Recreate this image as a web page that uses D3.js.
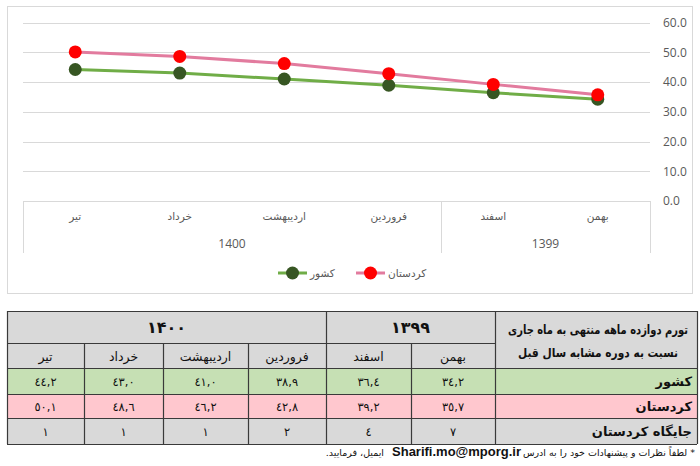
<!DOCTYPE html>
<html>
<head>
<meta charset="utf-8">
<script src="https://cdn.jsdelivr.net/npm/d3@7/dist/d3.min.js"></script>
<style>
  html, body { margin: 0; padding: 0; background: #fff; }
  svg { display: block; }
</style>
</head>
<body>
<script>
// ---------------- DATA (chronological order) ----------------
const months    = ["بهمن", "اسفند", "فروردین", "اردیبهشت", "خرداد", "تیر"];
const years     = ["1399", "1399", "1400", "1400", "1400", "1400"];
const country   = [34.2, 36.4, 38.9, 41.0, 43.0, 44.2];   // کشور
const kurdistan = [35.7, 39.2, 42.8, 46.2, 48.6, 50.1];   // کردستان
const rank      = [7, 4, 2, 1, 1, 1];                     // جایگاه کردستان
const seriesNames = ["کشور", "کردستان"];
const yTicks    = [0, 10, 20, 30, 40, 50, 60];
const tableTitle = ["تورم دوازده ماهه منتهی به ماه جاری", "نسبت به دوره مشابه سال قبل"];
const rowLabels  = ["کشور", "کردستان", "جایگاه کردستان"];
const footerRight = "* لطفاً نظرات و پیشنهادات خود را به ادرس";
const footerEmail = "Sharifi.mo@mporg.ir";
const footerLeft  = "ایمیل، فرمایید.";

// ---------------- SETUP ----------------
const W = 700, H = 466;
const svg = d3.select("body").append("svg").attr("width", W).attr("height", H);
svg.append("rect").attr("width", W).attr("height", H).attr("fill", "#fff");

const FA = "'DejaVu Sans', 'Noto Sans', sans-serif";
const LAT = "'Open Sans', 'Liberation Sans', sans-serif";

// chart frame
svg.append("rect").attr("x", 7.5).attr("y", 6.5).attr("width", 685).attr("height", 287)
  .attr("fill", "#fff").attr("stroke", "#d9d9d9").attr("stroke-width", 1);

// display order is right-to-left in time
const idx = d3.range(months.length).reverse();
const x = d3.scaleBand().domain(idx).range([23, 650]);
const y = d3.scaleLinear().domain([0, 60]).range([201, 22.5]);
const xc = i => x(i) + x.bandwidth() / 2;

// gridlines
svg.append("g").selectAll("line").data(yTicks).join("line")
  .attr("x1", 23).attr("x2", 650)
  .attr("y1", d => Math.round(y(d)) + 0.5).attr("y2", d => Math.round(y(d)) + 0.5)
  .attr("stroke", "#d9d9d9").attr("stroke-width", 1);

// y axis (right)
const yAxis = svg.append("g").attr("transform", "translate(650,0)")
  .call(d3.axisRight(y).tickValues(yTicks).tickSize(0).tickPadding(13).tickFormat(d3.format(".1f")));
yAxis.select(".domain").remove();
yAxis.selectAll("text").attr("font-family", LAT).attr("font-size", 12).attr("fill", "#595959");

// category axis
const xAxis = svg.append("g").attr("transform", "translate(0,201)")
  .call(d3.axisBottom(x).tickSize(0).tickPadding(12).tickFormat(i => months[i]));
xAxis.select(".domain").remove();
xAxis.selectAll("text").attr("font-family", FA).attr("font-size", 10.5).attr("fill", "#595959");

// year groups
const groups = d3.groups(idx, i => years[i]);
const bounds = [];
groups.forEach(([yr, arr]) => {
  const x0 = d3.min(arr, i => x(i)), x1 = d3.max(arr, i => x(i) + x.bandwidth());
  bounds.push(x0, x1);
  svg.append("text").attr("x", (x0 + x1) / 2).attr("y", 248)
    .attr("text-anchor", "middle").attr("font-family", LAT).attr("font-size", 12)
    .attr("fill", "#595959").text(yr);
});
svg.append("g").selectAll("line").data(Array.from(new Set(bounds.map(Math.round)))).join("line")
  .attr("x1", d => d + 0.5).attr("x2", d => d + 0.5).attr("y1", 201).attr("y2", 253)
  .attr("stroke", "#d9d9d9").attr("stroke-width", 1);

// series
const series = [
  { name: seriesNames[0], values: country,   line: "#70AD47", dot: "#375623" },
  { name: seriesNames[1], values: kurdistan, line: "#E27B9E", dot: "#FF0000" }
];
series.forEach(s => {
  const lg = d3.line().x(i => xc(i)).y(i => y(s.values[i]));
  svg.append("path").datum(idx).attr("d", lg).attr("fill", "none")
    .attr("stroke", s.line).attr("stroke-width", 3).attr("stroke-linejoin", "round");
  svg.append("g").selectAll("circle").data(idx).join("circle")
    .attr("cx", i => xc(i)).attr("cy", i => y(s.values[i])).attr("r", 6.5)
    .attr("fill", s.dot);
});

// legend
const legendX = [278, 356];
series.forEach((s, k) => {
  const g = svg.append("g").attr("transform", `translate(${legendX[k]},273)`);
  g.append("line").attr("x1", 0).attr("x2", 29).attr("stroke", s.line).attr("stroke-width", 3);
  g.append("circle").attr("cx", 14.5).attr("r", 6.5).attr("fill", s.dot);
  g.append("text").attr("x", 32).attr("y", 4).attr("font-family", FA).attr("font-size", 10.5)
    .attr("fill", "#595959").text(s.name);
});

// ---------------- TABLE ----------------
const toArabic = s => String(s).replace(/[0-9]/g, d => "٠١٢٣٤٥٦٧٨٩"[+d]);
const toPersian = s => String(s).replace(/[0-9]/g, d => "۰۱۲۳۴۵۶۷۸۹"[+d]);
const colX = [7, 84, 163, 248, 326, 411, 495, 697];   // columns: idx order, then label column
const rowY = [311, 343, 368, 394, 418, 444];
const fills = ["#D9D9D9", "#D9D9D9", "#C6E0B4", "#FFC7CE", "#D9D9D9"];
const T = svg.append("g");
fills.forEach((f, r) => {
  T.append("rect").attr("x", colX[0]).attr("y", rowY[r]).attr("width", colX[7] - colX[0])
    .attr("height", rowY[r + 1] - rowY[r]).attr("fill", f);
});
const bc = "#3a3a3a";
rowY.forEach((yy, r) => {
  T.append("line").attr("x1", colX[0]).attr("x2", r === 1 ? colX[6] : colX[7])
    .attr("y1", yy + 0.5).attr("y2", yy + 0.5).attr("stroke", bc).attr("stroke-width", 1.2);
});
colX.forEach((xx, c) => {
  const full = (c === 0 || c === 4 || c === 6 || c === 7);
  T.append("line").attr("x1", xx + 0.5).attr("x2", xx + 0.5)
    .attr("y1", full ? rowY[0] : rowY[1]).attr("y2", rowY[5])
    .attr("stroke", bc).attr("stroke-width", 1.2);
});
// year header
groups.forEach(([yr, arr]) => {
  const cols = arr.map(i => idx.indexOf(i));
  const x0 = colX[d3.min(cols)], x1 = colX[d3.max(cols) + 1];
  T.append("text").attr("x", (x0 + x1) / 2).attr("y", 333).attr("text-anchor", "middle")
    .attr("font-family", FA).attr("font-weight", "bold").attr("font-size", 16).attr("fill", "#111")
    .text(toPersian(yr));
});
// month header + values
const rowsData = [country, kurdistan, rank];
idx.forEach((i, c) => {
  const cx = (colX[c] + colX[c + 1]) / 2;
  T.append("text").attr("x", cx).attr("y", 361).attr("text-anchor", "middle")
    .attr("font-family", FA).attr("font-size", 12.5).attr("fill", "#111").text(months[i]);
  rowsData.forEach((arr, r) => {
    const v = r < 2 ? d3.format(".1f")(arr[i]).replace(".", ",") : String(arr[i]);
    T.append("text").attr("x", cx).attr("y", (rowY[r + 2] + rowY[r + 3]) / 2 + 4.5)
      .attr("text-anchor", "middle").attr("font-family", FA).attr("font-size", 11.5)
      .attr("letter-spacing", 1).attr("fill", "#111").text(toArabic(v));
  });
});
// title cell (horizontally condensed with a scale transform to fit the cell)
const titleW = [180, 160];
tableTitle.forEach((t, k) => {
  const g = T.append("g");
  const s = g.append("text").attr("x", 0).attr("y", 0).attr("text-anchor", "middle")
    .attr("font-family", FA).attr("font-weight", "bold").attr("font-size", 12.5).attr("fill", "#111").text(t);
  const len = s.node().getComputedTextLength();
  const sx = Math.min(1, titleW[k] / len);
  g.attr("transform", `translate(598,${334 + k * 23}) scale(${sx},1)`);
});
rowLabels.forEach((t, r) => {
  T.append("text").attr("x", 692).attr("y", (rowY[r + 2] + rowY[r + 3]) / 2 + 5)
    .attr("text-anchor", "end").attr("font-family", FA).attr("font-weight", "bold")
    .attr("font-size", 13).attr("fill", "#111").text(t);
});

// footer
svg.append("text").attr("x", 695).attr("y", 456).attr("direction", "rtl")
  .attr("text-anchor", "start").attr("font-family", FA).attr("font-size", 9.5).attr("fill", "#111")
  .text(footerRight);
svg.append("text").attr("x", 521).attr("y", 456).attr("text-anchor", "end")
  .attr("font-family", "'Liberation Sans', Arial, sans-serif").attr("font-weight", "bold")
  .attr("font-size", 13).attr("fill", "#111").text(footerEmail);
svg.append("text").attr("x", 384).attr("y", 456).attr("direction", "rtl")
  .attr("text-anchor", "start").attr("font-family", FA).attr("font-size", 9.5).attr("fill", "#111")
  .text(footerLeft);
</script>
</body>
</html>
